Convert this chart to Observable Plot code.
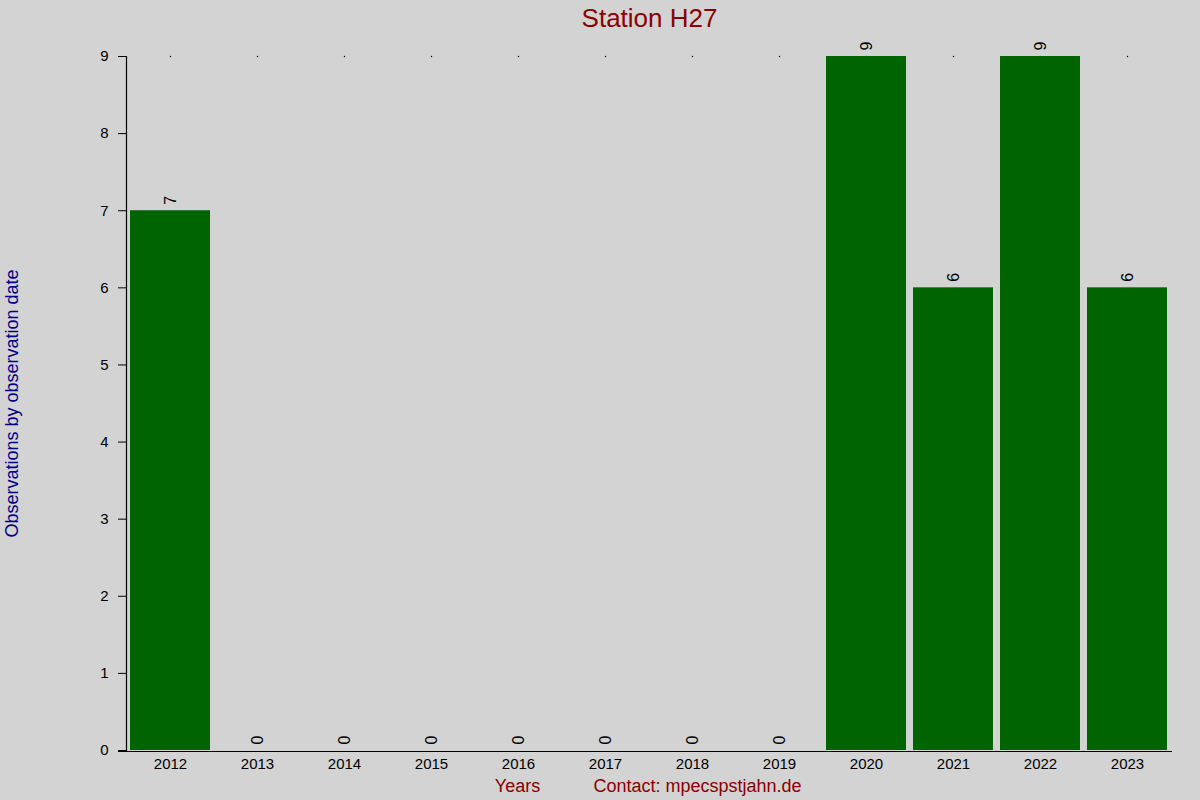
<!DOCTYPE html>
<html>
<head>
<meta charset="utf-8">
<script src="https://cdn.jsdelivr.net/npm/d3@7"></script>
<script src="https://cdn.jsdelivr.net/npm/@observablehq/plot@0.6"></script>
<style>
  html, body { margin: 0; padding: 0; background: #d3d3d3; }
  #chart svg { display: block; }
</style>
</head>
<body>
<div id="chart"></div>
<script>
const years = ["2012","2013","2014","2015","2016","2017","2018","2019","2020","2021","2022","2023"];
const counts = [7, 0, 0, 0, 0, 0, 0, 0, 9, 6, 9, 6];
const yTicks = [0, 1, 2, 3, 4, 5, 6, 7, 8, 9];
const title = "Station H27";
const yLabel = "Observations by observation date";
const xLabel = "Years";
const contact = "Contact: mpecspstjahn.de";

const data = years.map((y, i) => ({year: y, count: counts[i]}));
const font = "Liberation Sans, Arial, sans-serif";

const chart = Plot.plot({
  width: 1200,
  height: 800,
  marginLeft: 126,
  marginRight: 28,
  marginTop: 56,
  marginBottom: 50,
  style: {background: "#d3d3d3", fontFamily: font, fontSize: "15px", color: "black"},
  x: {domain: years, paddingInner: 0.08, paddingOuter: 0.04, label: null},
  y: {domain: [0, 9], label: null},
  marks: [
    Plot.dot(years, {x: d => d, y: () => 9, r: 0.7, fill: "black", stroke: null}),
    Plot.barY(data, {x: "year", y: "count", fill: "#006400"}),
    Plot.axisX({tickSize: 0, tickPadding: 8, fontSize: 15, label: null}),
    Plot.axisY({ticks: yTicks, tickSize: 8, tickPadding: 10, fontSize: 15, label: null, tickFormat: d3.format("d")}),
    Plot.frame({anchor: "left", stroke: "black", strokeWidth: 1.2}),
    Plot.ruleY([0], {insetLeft: -8, stroke: "black", strokeWidth: 1.2, dy: 1}),
    Plot.text(data, {x: "year", y: "count", text: d => String(d.count), rotate: -90, textAnchor: "start", dy: -6, fontSize: 16, fill: "black"}),
    Plot.text([title], {frameAnchor: "top", dy: -38, lineAnchor: "middle", textAnchor: "middle", fontSize: 26, fill: "#8b0000"}),
    Plot.text([yLabel], {frameAnchor: "left", dx: -114, rotate: -90, lineAnchor: "middle", textAnchor: "middle", fontSize: 18, fill: "#00008b"}),
    Plot.text([xLabel], {frameAnchor: "bottom-left", dx: 391, dy: 36, lineAnchor: "middle", textAnchor: "middle", fontSize: 18, fill: "#8b0000"}),
    Plot.text([contact], {frameAnchor: "bottom-left", dx: 571, dy: 36, lineAnchor: "middle", textAnchor: "middle", fontSize: 18, fill: "#8b0000"})
  ]
});
document.getElementById("chart").appendChild(chart);
</script>
</body>
</html>
